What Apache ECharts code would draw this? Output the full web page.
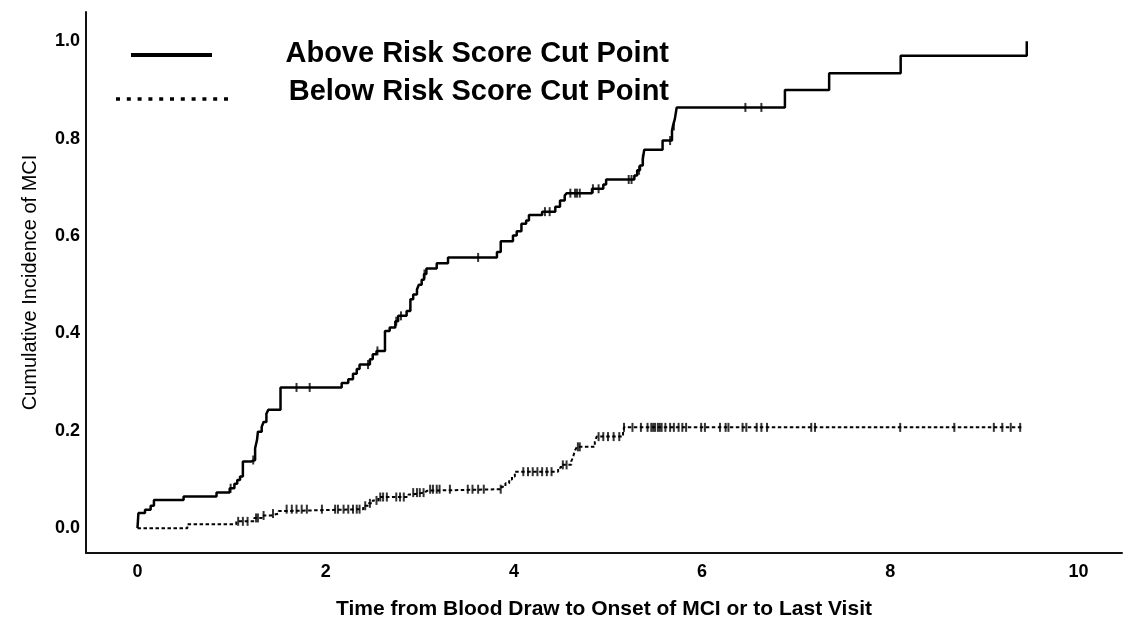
<!DOCTYPE html>
<html>
<head>
<meta charset="utf-8">
<script src="https://cdn.jsdelivr.net/npm/echarts@6/dist/echarts.min.js"></script>
<style>
html,body{margin:0;padding:0;background:#fff;}
#chart{width:1123px;height:625px;}
</style>
</head>
<body>
<div id="chart"></div>
<script>
// ---- data ----
const seriesNames = ['Above Risk Score Cut Point', 'Below Risk Score Cut Point'];
const xTitle = 'Time from Blood Draw to Onset of MCI or to Last Visit';
const yTitle = 'Cumulative Incidence of MCI';
const xTicks = [0, 2, 4, 6, 8, 10];
const yTicks = [0, 0.2, 0.4, 0.6, 0.8, 1.0];

const aboveTimes = [0, 0.01, 0.08, 0.14, 0.175, 0.49, 0.84, 0.98, 1.03, 1.06, 1.09, 1.12, 1.21, 1.25, 1.27, 1.28, 1.32, 1.34, 1.37, 1.39, 1.52,
  2.17, 2.24, 2.29, 2.33, 2.36, 2.47, 2.50, 2.54, 2.63, 2.68, 2.74, 2.77, 2.86, 2.90, 2.93, 2.97, 2.99, 3.02, 3.045, 3.07, 3.18, 3.30,
  3.82, 3.86, 3.99, 4.03, 4.08, 4.13, 4.16, 4.30, 4.44, 4.49, 4.54, 4.56, 4.83, 4.95, 4.98, 5.28, 5.31, 5.34, 5.37, 5.385,
  5.58, 5.68, 5.69, 5.71, 5.73, 6.88, 7.35, 8.11, 9.45];
const aboveProb = [0, 0.031, 0.038, 0.046, 0.058, 0.065, 0.073, 0.082, 0.091, 0.099, 0.106, 0.137, 0.140, 0.164, 0.181, 0.198, 0.208, 0.218, 0.235, 0.243, 0.289,
  0.298, 0.306, 0.317, 0.327, 0.336, 0.347, 0.357, 0.364, 0.405, 0.412, 0.425, 0.436, 0.446, 0.470, 0.480, 0.490, 0.500, 0.510, 0.522, 0.533, 0.544, 0.556,
  0.567, 0.589, 0.601, 0.610, 0.625, 0.632, 0.643, 0.650, 0.660, 0.673, 0.683, 0.688, 0.697, 0.706, 0.716, 0.724, 0.735, 0.745, 0.758, 0.777,
  0.796, 0.816, 0.826, 0.840, 0.864, 0.900, 0.934, 0.970, 1.0];
const aboveCensor = [0.99, 1.23, 1.69, 1.83, 2.45, 2.55, 2.75, 2.80, 3.05, 3.62, 4.33, 4.38, 4.60, 4.65, 4.67, 4.70, 4.84, 4.90,
  5.22, 5.25, 5.33, 5.37, 5.66, 5.70, 6.46, 6.63];

const belowTimes = [0, 0.53, 1.05, 1.24, 1.32, 1.42, 1.50, 1.53, 2.40, 2.45, 2.50, 2.56, 2.88, 2.91, 3.05, 3.08,
  3.87, 3.91, 3.95, 3.98, 4.01, 4.47, 4.50, 4.61, 4.63, 4.65, 4.67, 4.86, 4.88, 5.16, 5.17, 9.41];
const belowProb = [0, 0.008, 0.014, 0.021, 0.026, 0.030, 0.035, 0.039, 0.046, 0.051, 0.057, 0.064, 0.069, 0.073, 0.077, 0.080,
  0.085, 0.092, 0.100, 0.106, 0.116, 0.124, 0.130, 0.137, 0.147, 0.160, 0.167, 0.178, 0.188, 0.198, 0.207, 0.207];
const belowCensor = [1.07, 1.12, 1.17, 1.26, 1.28, 1.34, 1.44, 1.585, 1.64, 1.69, 1.745, 1.80, 1.96, 2.10, 2.13, 2.19, 2.24, 2.29, 2.33, 2.36,
  2.42, 2.47, 2.54, 2.58, 2.61, 2.65, 2.75, 2.79, 2.83, 2.93, 2.97, 3.00, 3.04, 3.11, 3.14, 3.18, 3.21, 3.32, 3.51, 3.56, 3.62, 3.68, 3.86,
  4.10, 4.15, 4.20, 4.25, 4.30, 4.35, 4.40, 4.52, 4.56, 4.68, 4.70, 4.90, 4.95, 5.00, 5.06, 5.12, 5.17, 5.26, 5.35, 5.42, 5.46, 5.48,
  5.50, 5.53, 5.55, 5.57, 5.61, 5.66, 5.70, 5.75, 5.79, 5.83, 5.99, 6.03, 6.19, 6.25, 6.28, 6.43, 6.47, 6.58, 6.63, 6.69, 7.16, 7.20,
  8.105, 8.68, 9.10, 9.19, 9.28, 9.38];

// ---- helpers ----
function pairs(ts, vs) { return ts.map((t, i) => [t, vs[i]]); }
function valueAt(ts, vs, t) {
  let v = vs[0];
  for (let i = 0; i < ts.length; i++) { if (ts[i] <= t) v = vs[i]; else break; }
  return v;
}
function censorPoints(cs, ts, vs) { return cs.map(t => [t, valueAt(ts, vs, t)]); }

const FONT = '"Liberation Sans", Arial, Helvetica, sans-serif';
const chart = echarts.init(document.getElementById('chart'), null, { renderer: 'canvas' });

const censorSymbol = { symbol: 'rect', symbolSize: [2, 9] };

chart.setOption({
  backgroundColor: '#ffffff',
  animation: false,
  grid: { left: 86, right: 1, top: 12, bottom: 68, containLabel: false },
  xAxis: {
    type: 'value', min: -0.547, max: 10.462,
    name: xTitle, nameLocation: 'middle', nameGap: 46,
    nameTextStyle: { fontFamily: FONT, fontSize: 21, fontWeight: 'bold', color: '#000' },
    axisLine: { show: true, onZero: false, lineStyle: { color: '#111', width: 2 } },
    axisTick: { show: false },
    splitLine: { show: false },
    axisLabel: { customValues: xTicks, margin: 10, fontFamily: FONT, fontSize: 18, fontWeight: 'bold', color: '#000',
      formatter: v => String(Math.round(v)) }
  },
  yAxis: {
    type: 'value', min: -0.051, max: 1.060,
    name: yTitle, nameLocation: 'middle', nameGap: 46,
    nameTextStyle: { fontFamily: FONT, fontSize: 20, fontWeight: 'normal', color: '#000' },
    axisLine: { show: true, onZero: false, lineStyle: { color: '#111', width: 2 } },
    axisTick: { show: false },
    splitLine: { show: false },
    axisLabel: { customValues: yTicks, margin: 6, fontFamily: FONT, fontSize: 18, fontWeight: 'bold', color: '#000',
      formatter: v => v.toFixed(1) }
  },
  series: [
    { name: seriesNames[0], type: 'line', step: 'end', data: pairs(aboveTimes, aboveProb),
      showSymbol: false, symbol: 'none', lineStyle: { color: '#000', width: 2.5 }, z: 3 },
    { name: seriesNames[1], type: 'line', step: 'end', data: pairs(belowTimes, belowProb),
      showSymbol: false, symbol: 'none', lineStyle: { color: '#000', width: 2, type: [3.5, 2.5] }, z: 3 },
    { type: 'scatter', data: censorPoints(aboveCensor, aboveTimes, aboveProb), ...censorSymbol,
      itemStyle: { color: '#000' }, z: 4, silent: true },
    { type: 'scatter', data: censorPoints(belowCensor, belowTimes, belowProb), ...censorSymbol,
      itemStyle: { color: '#000' }, z: 4, silent: true }
  ],
  graphic: [
    { type: 'line', shape: { x1: 131, y1: 55, x2: 212, y2: 55 }, style: { stroke: '#000', lineWidth: 4 } },
    { type: 'line', shape: { x1: 116, y1: 99, x2: 228, y2: 99 }, style: { stroke: '#000', lineWidth: 3.5, lineDash: [4, 6.8] } },
    { type: 'text', x: 669, y: 54, style: { text: seriesNames[0], fill: '#000', font: 'bold 29px ' + FONT, align: 'right', verticalAlign: 'middle' } },
    { type: 'text', x: 669, y: 92, style: { text: seriesNames[1], fill: '#000', font: 'bold 29px ' + FONT, align: 'right', verticalAlign: 'middle' } }
  ]
});
</script>
</body>
</html>
